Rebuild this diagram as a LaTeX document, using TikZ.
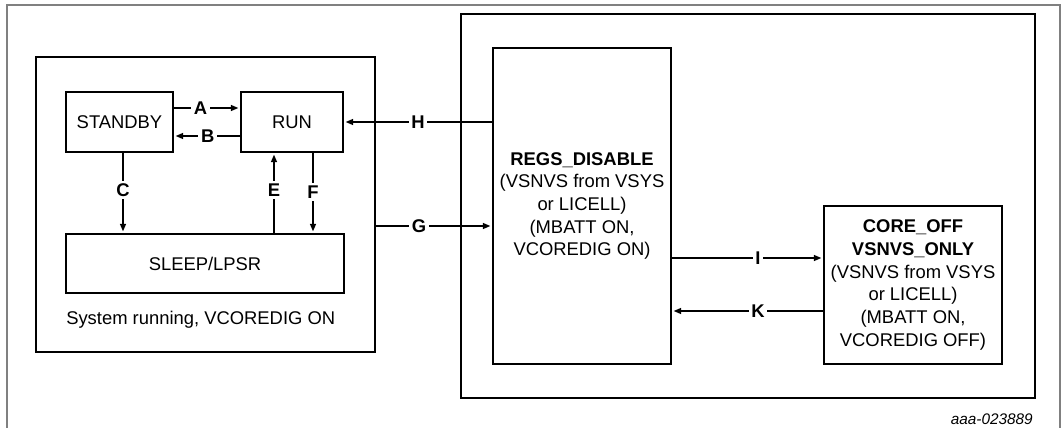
\documentclass[tikz,border=0pt]{standalone}
\usepackage{fontspec}
\setmainfont{Liberation Sans}
\usetikzlibrary{arrows.meta}
\newcommand{\diagfont}{\fontsize{13.8}{17}\selectfont}

\begin{document}
\begin{tikzpicture}[x=0.75pt, y=-0.75pt,
  every node/.style={font=\diagfont},
  box/.style={draw, line width=2.1pt, align=center, inner sep=0pt},
  arr/.style={line width=0.8pt, -{Triangle[length=5.5pt,width=4.5pt]}, shorten >=1pt},
  lbl/.style={fill=white, font=\diagfont\bfseries, inner sep=2pt}]
  \useasboundingbox (0,0) rectangle (1064,428);

  % frame (open at the bottom)
  \draw[gray, line width=0.8pt] (7,428) -- (7,5) -- (1060,5) -- (1060,428);

  % system running block
  \node[box, minimum width=254.25pt, minimum height=221.25pt] (sysbox) at (205.5,204.5) {};
  \node[box, minimum width=80.25pt, minimum height=45pt] (standby) at (119.5,122) {STANDBY};
  \node[box, minimum width=76.5pt, minimum height=45pt] (run) at (292,122) {RUN};
  \node[box, minimum width=208.5pt, minimum height=44.25pt] (sleep) at (205,263.5) {SLEEP/LPSR};
  \node[anchor=west, inner sep=0pt] (syslbl) at (66,320) {System running, VCOREDIG ON};

  % low power block
  \node[box, minimum width=430.5pt, minimum height=288pt] (outer) at (748,206) {};
  \node[box, minimum width=133.5pt, minimum height=237pt] (regs) at (582,206)
    {\textbf{REGS\_DISABLE}\\(VSNVS from VSYS\\or LICELL)\\(MBATT ON,\\VCOREDIG ON)};
  \node[box, minimum width=133.5pt, minimum height=118.5pt] (coreoff) at (913,285)
    {\textbf{CORE\_OFF}\\\textbf{VSNVS\_ONLY}\\(VSNVS from VSYS\\or LICELL)\\(MBATT ON,\\VCOREDIG OFF)};

  % transitions
  \draw[arr] (standby.east |- 0,108) -- node[lbl, pos=0.4] (A) {A} (run.west |- 0,108);
  \draw[arr] (run.west |- 0,136) -- node[lbl, pos=0.49] (B) {B} (standby.east |- 0,136);
  \draw[arr] (standby.south -| 123,0) -- node[lbl, pos=0.46] (C) {C} (sleep.north -| 123,0);
  \draw[arr] (sleep.north -| 274,0) -- node[lbl, pos=0.54] (E) {E} (run.south -| 274,0);
  \draw[arr] (run.south -| 313,0) -- node[lbl, pos=0.49] (F) {F} (sleep.north -| 313,0);
  \draw[arr] (sysbox.east |- 0,226) -- node[lbl, pos=0.37] (G) {G} (regs.west |- 0,226);
  \draw[arr] (regs.west |- run.east) -- node[lbl, pos=0.5] (H) {H} (run.east);
  \draw[arr] (regs.east |- 0,258) -- node[lbl, pos=0.57] (I) {I} (coreoff.west |- 0,258);
  \draw[arr] (coreoff.west |- 0,311) -- node[lbl, pos=0.43] (K) {K} (regs.east |- 0,311);

  % figure id
  \node[anchor=east, inner sep=0pt, font=\fontsize{11.5}{14}\selectfont\itshape] (figid) at (1033,419) {aaa-023889};
\end{tikzpicture}
\end{document}
